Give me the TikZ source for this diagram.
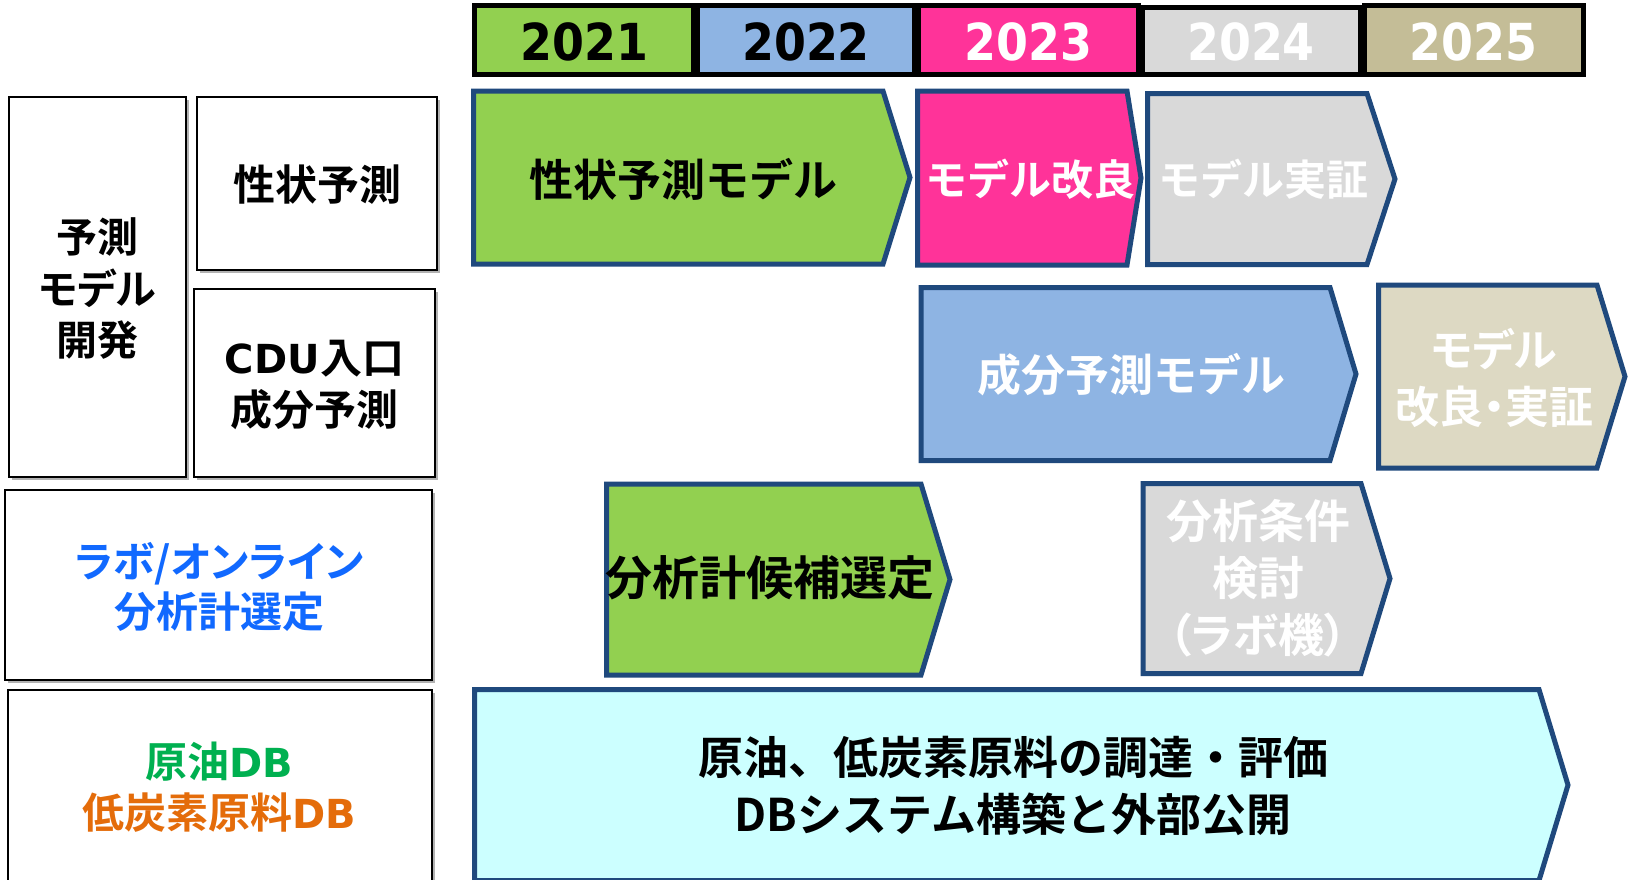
\documentclass[tikz,border=0pt]{standalone}
\usepackage{fontspec}
\usetikzlibrary{shadows}
\newfontfamily\jpb{Noto Sans CJK JP Bold}
\newfontfamily\jpp{Noto Sans CJK JP Bold}[RawFeature=+palt]
\newfontfamily\dv{DejaVu Sans}
\newcommand\dvB{\dv\bfseries}
\definecolor{cgreen}{HTML}{92D050}
\definecolor{cblue}{HTML}{8EB4E3}
\definecolor{cpink}{HTML}{FF3399}
\definecolor{cgray}{HTML}{D9D9D9}
\definecolor{ctanY}{HTML}{C4BD97}
\definecolor{ctanA}{HTML}{DDD9C3}
\definecolor{ccyan}{HTML}{CCFFFF}
\definecolor{cedge}{HTML}{1F497D}
\definecolor{tblue}{HTML}{1169FF}
\definecolor{tgreen}{HTML}{00B050}
\definecolor{torange}{HTML}{E46C0A}
\begin{document}
\begin{tikzpicture}[x=1pt,y=-1pt,
  abox/.style={draw=cedge, line width=5pt, line join=miter},
  lbox/.style={draw=black, line width=2pt, fill=white,
    drop shadow={shadow xshift=2.5pt, shadow yshift=-2.5pt, opacity=0.3, fill=black}},
  ycell/.style={draw=black, line width=5pt},
  ytext/.style={font={\dv\bfseries\fontsize{51}{60}\selectfont}, inner sep=0pt},
  jt/.style 2 args={font={\jpb\fontsize{#1}{#2}\selectfont}, align=center, inner sep=0pt},
  jtp/.style 2 args={font={\jpp\fontsize{#1}{#2}\selectfont}, align=center, inner sep=0pt}
]
\useasboundingbox (0,0) rectangle (1633,879);
\clip (0,0) rectangle (1633,879);
\fill[white] (0,0) rectangle (1633,879);

% year bar
\draw[ycell, fill=cgreen] (474,5.8) rectangle (693,74.2);
\draw[ycell, fill=cblue]  (697,5.8) rectangle (914.5,74.2);
\draw[ycell, fill=cpink]  (918.5,5.8) rectangle (1138,74.2);
\draw[ycell, fill=cgray]  (1142,7.5) rectangle (1360,74.2);
\draw[ycell, fill=ctanY]  (1364,5.8) rectangle (1583,74.2);
\node[ytext] (y2021) at (584.5,41.5) {\scalebox{0.9}[1]{2021}};
\node[ytext] (y2022) at (806,41.5) {\scalebox{0.9}[1]{2022}};
\node[ytext, text=white] (y2023) at (1028.5,41.5) {\scalebox{0.9}[1]{2023}};
\node[ytext, text=white] (y2024) at (1251,41.5) {\scalebox{0.9}[1]{2024}};
\node[ytext, text=white] (y2025) at (1473.5,41.5) {\scalebox{0.9}[1]{2025}};

% left boxes
\draw[lbox] (9,97) rectangle (186,477);
\draw[lbox] (197,97) rectangle (437,270);
\draw[lbox] (194,289) rectangle (435,477);
\draw[lbox] (5,490) rectangle (432,680);
\draw[lbox] (8,690) rectangle (432,900);

\node[jtp={41}{51.5}] (l1) at (97.5,288.5) {予測\\モデル\\開発};
\node[jt={42}{52}] (l2) at (317,185) {性状予測};
\node[jt={42}{52}] (l3) at (314.5,385) {{\dvB\fontsize{40}{52}\selectfont CDU}入口\\成分予測};
\node[jtp={42}{50}, text=tblue] (l4) at (219,587) {ラボ/オンライン\\分析計選定};
\node[jt={42}{51}] (l5) at (219,787.5) {\textcolor{tgreen}{原油{\dvB\fontsize{40}{51}\selectfont DB}}\\\textcolor{torange}{低炭素原料{\dvB\fontsize{40}{51}\selectfont DB}}};

% arrows
\draw[abox, fill=cgreen] (473.5,91) -- (883,91) -- (910,177.5) -- (883,264) -- (473.5,264) -- cycle;
\draw[abox, fill=cpink] (917.5,91) -- (1127,91) -- (1141,178) -- (1127,265) -- (917.5,265) -- cycle;
\draw[abox, fill=cgray] (1147.5,93.5) -- (1367,93.5) -- (1395,179) -- (1367,264.5) -- (1147.5,264.5) -- cycle;
\draw[abox, fill=cblue] (921,287.5) -- (1330,287.5) -- (1356,374) -- (1330,460.5) -- (921,460.5) -- cycle;
\draw[abox, fill=ctanA] (1378.5,285) -- (1597,285) -- (1625,376.5) -- (1597,468) -- (1378.5,468) -- cycle;
\draw[abox, fill=cgreen] (606.5,484) -- (921,484) -- (950,579.5) -- (921,675) -- (606.5,675) -- cycle;
\draw[abox, fill=cgray] (1143,483.5) -- (1361,483.5) -- (1390,578.5) -- (1361,673.5) -- (1143,673.5) -- cycle;
\draw[abox, fill=ccyan] (474.5,689.5) -- (1539,689.5) -- (1568,785) -- (1539,880.5) -- (474.5,880.5) -- cycle;

% arrow texts
\node[jt={44}{52}] (t1) at (683,179) {性状予測モデル};
\node[jt={42}{52}, text=white] (t2) at (1030,179) {モデル改良};
\node[jt={42}{52}, text=white] (t3) at (1263,179) {モデル実証};
\node[jt={44}{52}, text=white] (t4) at (1131,375) {成分予測モデル};
\node[jtp={44}{57}, text=white] (t5) at (1494,377.5) {モデル\\改良・実証};
\node[jt={47}{55}] (t6) at (770,578) {分析計候補選定};
\node[jt={46}{57}, text=white] (t7) at (1258,578) {分析条件\\検討\\{\jpp （ラボ機）}};
\node[jt={45}{57}] (t8) at (1013,786) {原油、低炭素原料の調達・評価\\DBシステム構築と外部公開};
\end{tikzpicture}
\end{document}
